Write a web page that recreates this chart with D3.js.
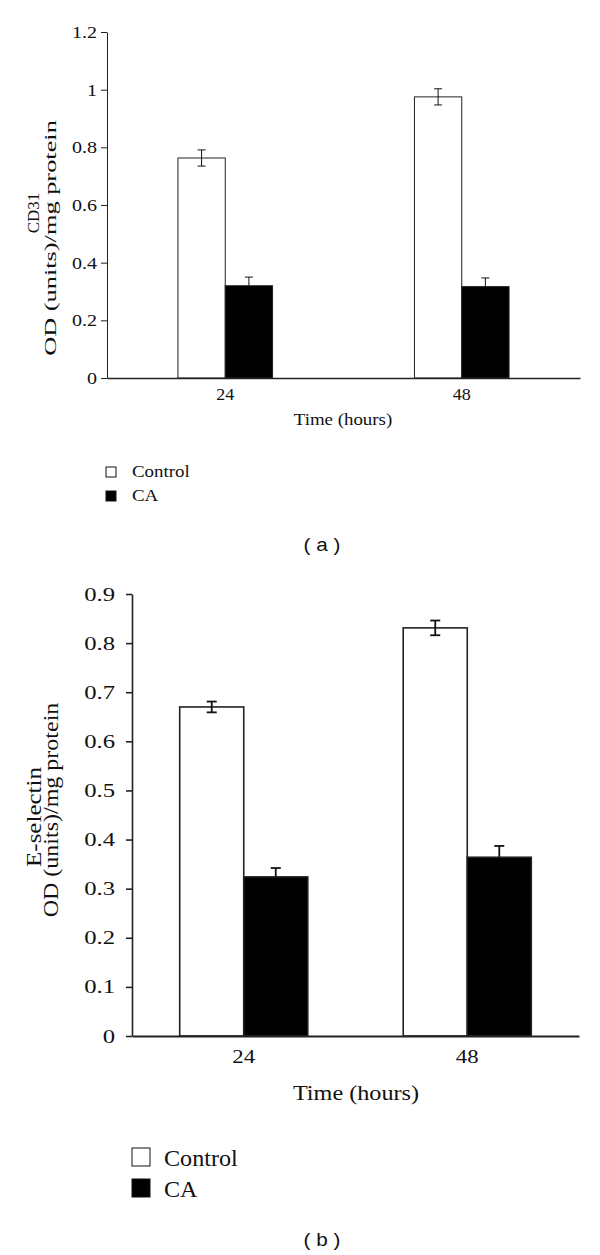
<!DOCTYPE html>
<html>
<head>
<meta charset="utf-8">
<script src="https://cdn.jsdelivr.net/npm/d3@7"></script>
<style>
  html, body { margin: 0; padding: 0; background: #fff; }
  svg { display: block; }
</style>
</head>
<body>
<svg id="chart" width="600" height="1255"></svg>
<script>
// ---------- data ----------
const categories = ["24", "48"];
const seriesNames = ["Control", "CA"];

// Panel (a) CD31
const cd31Control = [0.763, 0.975];
const cd31ControlErr = [0.028, 0.028];
const cd31CA = [0.320, 0.317];
const cd31CAErr = [0.030, 0.030];
const cd31Ticks = [0, 0.2, 0.4, 0.6, 0.8, 1, 1.2];
const cd31TickLabels = ["0", "0.2", "0.4", "0.6", "0.8", "1", "1.2"];

// Panel (b) E-selectin
const eselControl = [0.670, 0.831];
const eselControlErr = [0.011, 0.015];
const eselCA = [0.324, 0.364];
const eselCAErr = [0.018, 0.023];
const eselTicks = [0, 0.1, 0.2, 0.3, 0.4, 0.5, 0.6, 0.7, 0.8, 0.9];
const eselTickLabels = ["0", "0.1", "0.2", "0.3", "0.4", "0.5", "0.6", "0.7", "0.8", "0.9"];

const xTitle = "Time (hours)";
const panelLabels = ["( a )", "( b )"];

// ---------- helpers ----------
const svg = d3.select("#chart");
svg.append("rect").attr("width", 600).attr("height", 1255).attr("fill", "#fff");
const SERIF = "Liberation Serif, Times New Roman, serif";

function stretch(sel, k) {
  sel.each(function () {
    const L = this.getComputedTextLength();
    d3.select(this).attr("textLength", L * k).attr("lengthAdjust", "spacingAndGlyphs");
  });
}

function panel(cfg) {
  const g = svg.append("g");
  const x = d3.scaleBand().domain(categories).range([cfg.left, cfg.right]).paddingInner(0).paddingOuter(0);
  const xs = d3.scaleBand().domain(seriesNames).range([0, x.bandwidth()]).paddingInner(0).paddingOuter(cfg.subPad);
  const y = d3.scaleLinear().domain([0, cfg.max]).range([cfg.bottom, cfg.top]);

  const rows = [];
  categories.forEach((c, i) => {
    rows.push({ cat: c, s: "Control", v: cfg.control[i], e: cfg.controlErr[i] });
    rows.push({ cat: c, s: "CA", v: cfg.ca[i], e: cfg.caErr[i] });
  });
  const cx = d => x(d.cat) + xs(d.s) + xs.bandwidth() / 2;

  // bars
  g.selectAll("rect.bar").data(rows).join("rect")
    .attr("class", "bar")
    .attr("x", d => x(d.cat) + xs(d.s))
    .attr("y", d => y(d.v))
    .attr("width", xs.bandwidth())
    .attr("height", d => y(0) - y(d.v))
    .attr("fill", d => d.s === "Control" ? "#fff" : "#000")
    .attr("stroke", "#222")
    .attr("stroke-width", cfg.barStroke);

  // error bars (lower half hidden inside the black bars)
  const eb = g.selectAll("g.err").data(rows).join("g").attr("class", "err")
    .attr("stroke", "#111").attr("stroke-width", cfg.errStroke);
  eb.append("line")
    .attr("x1", cx).attr("x2", cx)
    .attr("y1", d => y(d.v + d.e))
    .attr("y2", d => d.s === "Control" ? y(d.v - d.e) : y(d.v));
  eb.append("line")
    .attr("x1", d => cx(d) - cfg.cap / 2).attr("x2", d => cx(d) + cfg.cap / 2)
    .attr("y1", d => y(d.v + d.e)).attr("y2", d => y(d.v + d.e));
  eb.filter(d => d.s === "Control").append("line")
    .attr("x1", d => cx(d) - cfg.cap / 2).attr("x2", d => cx(d) + cfg.cap / 2)
    .attr("y1", d => y(d.v - d.e)).attr("y2", d => y(d.v - d.e));

  // y axis
  const ya = g.append("g").attr("transform", `translate(${cfg.left},0)`)
    .call(d3.axisLeft(y).tickValues(cfg.ticks).tickFormat((d, i) => cfg.tickLabels[i])
      .tickSize(6).tickSizeOuter(0).tickPadding(cfg.yPad));
  ya.select(".domain").attr("stroke", "#222").attr("stroke-width", cfg.axisStroke);
  ya.selectAll(".tick line").attr("stroke", "#222").attr("stroke-width", cfg.axisStroke);
  ya.selectAll(".tick text").attr("font-family", SERIF)
    .attr("font-size", cfg.yTickFont).attr("fill", "#111");
  stretch(ya.selectAll(".tick text"), cfg.yTickK);

  // x axis
  const xa = g.append("g").attr("transform", `translate(0,${cfg.bottom})`)
    .call(d3.axisBottom(x).tickSize(0).tickSizeOuter(0).tickPadding(cfg.xPad));
  xa.select(".domain").attr("stroke", "#222").attr("stroke-width", cfg.axisStroke + 0.4);
  xa.selectAll(".tick text").attr("font-family", SERIF)
    .attr("font-size", cfg.xTickFont).attr("fill", "#111");
  stretch(xa.selectAll(".tick text"), cfg.xTickK);

  // x title
  const xt = g.append("text").attr("x", cfg.xTitleX).attr("y", cfg.xTitleY)
    .attr("text-anchor", "middle").attr("font-family", SERIF)
    .attr("font-size", cfg.xTitleFont).attr("fill", "#111").text(xTitle);
  stretch(xt, cfg.xTitleK);

  // y title (two lines)
  cfg.yTitle.forEach((t, i) => {
    const tt = g.append("text")
      .attr("transform", `translate(${cfg.yTitleX[i]},${cfg.yTitleCy[i]}) rotate(-90)`)
      .attr("text-anchor", "middle").attr("font-family", SERIF)
      .attr("font-size", cfg.yTitleFont).attr("fill", "#111").text(t);
    stretch(tt, cfg.yTitleK[i]);
  });

  // legend
  seriesNames.forEach((s, i) => {
    g.append("rect").attr("x", cfg.legX).attr("y", cfg.legY[i])
      .attr("width", cfg.legSq).attr("height", cfg.legSq)
      .attr("fill", s === "Control" ? "#fff" : "#000").attr("stroke", "#111").attr("stroke-width", 1);
    const lt = g.append("text").attr("x", cfg.legTextX).attr("y", cfg.legY[i] + cfg.legSq)
      .attr("font-family", SERIF)
      .attr("font-size", cfg.legFont).attr("fill", "#111").text(s);
    stretch(lt, cfg.legK);
  });

  // panel label
  const pl = g.append("text").attr("x", 322).attr("y", cfg.panelY).attr("text-anchor", "middle")
    .attr("font-family", "Liberation Sans, Arial, sans-serif").attr("font-size", cfg.panelFont)
    .attr("fill", "#111").attr("xml:space", "preserve").text(cfg.panelLabel);
  stretch(pl, 1.15);
}

panel({
  left: 107, right: 580, top: 32, bottom: 378, max: 1.2, subPad: 1.5,
  control: cd31Control, controlErr: cd31ControlErr, ca: cd31CA, caErr: cd31CAErr,
  ticks: cd31Ticks, tickLabels: cd31TickLabels,
  barStroke: 1, errStroke: 1, cap: 8, axisStroke: 1,
  yPad: 4, yTickFont: 17, yTickK: 1.18,
  xPad: 10, xTickFont: 17, xTickK: 1.06,
  xTitleX: 343, xTitleY: 425, xTitleFont: 16, xTitleK: 1.18,
  yTitle: ["CD31", "OD (units)/mg protein"], yTitleX: [39, 56], yTitleCy: [213, 238], yTitleFont: 17, yTitleK: [1.0, 1.55],
  legX: 106, legY: [467, 491], legSq: 10, legTextX: 132, legFont: 16, legK: 1.18,
  panelY: 551, panelFont: 18, panelLabel: panelLabels[0]
});

panel({
  left: 132, right: 579, top: 594, bottom: 1036, max: 0.9, subPad: 0.745,
  control: eselControl, controlErr: eselControlErr, ca: eselCA, caErr: eselCAErr,
  ticks: eselTicks, tickLabels: eselTickLabels,
  barStroke: 1.6, errStroke: 1.8, cap: 10, axisStroke: 1.6,
  yPad: 11, yTickFont: 19, yTickK: 1.3,
  xPad: 13.5, xTickFont: 19, xTickK: 1.2,
  xTitleX: 356, xTitleY: 1100, xTitleFont: 22, xTitleK: 1.1,
  yTitle: ["E-selectin", "OD (units)/mg protein"], yTitleX: [41, 58], yTitleCy: [817, 810], yTitleFont: 20, yTitleK: [1.25, 1.2],
  legX: 132, legY: [1148, 1179], legSq: 18, legTextX: 164, legFont: 23, legK: 1.05,
  panelY: 1246, panelFont: 18, panelLabel: panelLabels[1]
});
</script>
</body>
</html>
